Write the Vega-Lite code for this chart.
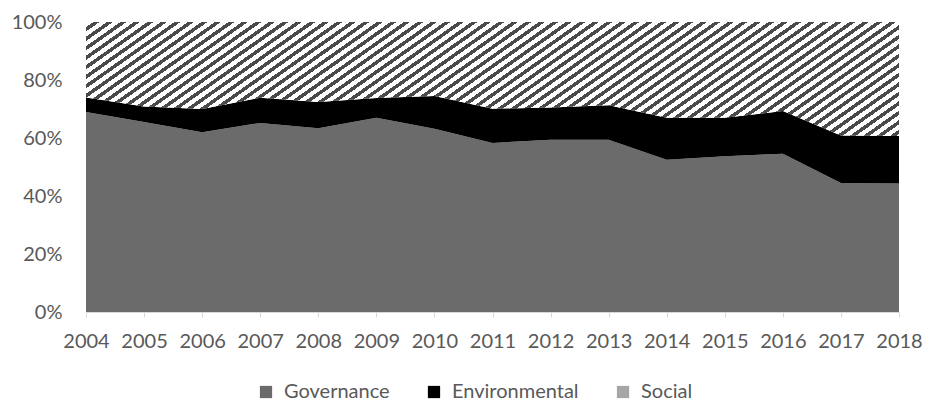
{
  "$schema": "https://vega.github.io/schema/vega-lite/v6.json",
  "width": 813,
  "height": 290,
  "autosize": {"type": "none"},
  "padding": {"left": 86, "top": 22, "right": 28, "bottom": 93},
  "background": "#ffffff",
  "config": {"view": {"stroke": null}, "font": "Lato"},
  "data": {
    "values": [
      {"year": 2004, "category": "Governance", "share": 69.0},
      {"year": 2004, "category": "Environmental", "share": 5.0},
      {"year": 2004, "category": "Social", "share": 26.0},
      {"year": 2005, "category": "Governance", "share": 65.5},
      {"year": 2005, "category": "Environmental", "share": 5.4},
      {"year": 2005, "category": "Social", "share": 29.1},
      {"year": 2006, "category": "Governance", "share": 62.0},
      {"year": 2006, "category": "Environmental", "share": 8.0},
      {"year": 2006, "category": "Social", "share": 30.0},
      {"year": 2007, "category": "Governance", "share": 65.2},
      {"year": 2007, "category": "Environmental", "share": 8.7},
      {"year": 2007, "category": "Social", "share": 26.1},
      {"year": 2008, "category": "Governance", "share": 63.4},
      {"year": 2008, "category": "Environmental", "share": 9.0},
      {"year": 2008, "category": "Social", "share": 27.6},
      {"year": 2009, "category": "Governance", "share": 67.0},
      {"year": 2009, "category": "Environmental", "share": 6.8},
      {"year": 2009, "category": "Social", "share": 26.2},
      {"year": 2010, "category": "Governance", "share": 63.2},
      {"year": 2010, "category": "Environmental", "share": 11.3},
      {"year": 2010, "category": "Social", "share": 25.5},
      {"year": 2011, "category": "Governance", "share": 58.3},
      {"year": 2011, "category": "Environmental", "share": 11.8},
      {"year": 2011, "category": "Social", "share": 29.9},
      {"year": 2012, "category": "Governance", "share": 59.4},
      {"year": 2012, "category": "Environmental", "share": 11.1},
      {"year": 2012, "category": "Social", "share": 29.5},
      {"year": 2013, "category": "Governance", "share": 59.4},
      {"year": 2013, "category": "Environmental", "share": 11.9},
      {"year": 2013, "category": "Social", "share": 28.7},
      {"year": 2014, "category": "Governance", "share": 52.5},
      {"year": 2014, "category": "Environmental", "share": 14.5},
      {"year": 2014, "category": "Social", "share": 33.0},
      {"year": 2015, "category": "Governance", "share": 53.7},
      {"year": 2015, "category": "Environmental", "share": 13.3},
      {"year": 2015, "category": "Social", "share": 33.0},
      {"year": 2016, "category": "Governance", "share": 54.6},
      {"year": 2016, "category": "Environmental", "share": 14.7},
      {"year": 2016, "category": "Social", "share": 30.7},
      {"year": 2017, "category": "Governance", "share": 44.5},
      {"year": 2017, "category": "Environmental", "share": 16.4},
      {"year": 2017, "category": "Social", "share": 39.1},
      {"year": 2018, "category": "Governance", "share": 44.3},
      {"year": 2018, "category": "Environmental", "share": 16.4},
      {"year": 2018, "category": "Social", "share": 39.3}
    ]
  },
  "transform": [
    {"calculate": "indexof(['Governance','Environmental','Social'], datum.category)", "as": "ord"},
    {"stack": "share", "groupby": ["year"], "sort": [{"field": "ord", "order": "ascending"}], "offset": "normalize", "as": ["y0", "y1"]}
  ],
  "encoding": {
    "x": {
      "field": "year",
      "type": "quantitative",
      "scale": {"domain": [2004, 2018], "nice": false, "zero": false},
      "axis": {
        "title": null,
        "values": [2004, 2005, 2006, 2007, 2008, 2009, 2010, 2011, 2012, 2013, 2014, 2015, 2016, 2017, 2018],
        "format": "d",
        "grid": false,
        "domainColor": "#d9d9d9",
        "tickColor": "#d9d9d9",
        "tickSize": 5,
        "labelPadding": 14,
        "labelFont": "Lato",
        "labelFontSize": 20,
        "labelColor": "#595959",
        "labelFlush": false,
        "labelOverlap": false,
        "labelBound": false,
        "zindex": 1
      }
    },
    "y": {
      "field": "y1",
      "type": "quantitative",
      "stack": null,
      "scale": {"domain": [0, 1], "nice": false},
      "axis": {
        "title": null,
        "format": "~%",
        "values": [0, 0.2, 0.4, 0.6, 0.8, 1],
        "grid": false,
        "domain": false,
        "ticks": false,
        "tickSize": 0,
        "labelPadding": 24,
        "labelFont": "Lato",
        "labelFontSize": 20,
        "labelColor": "#595959"
      }
    },
    "y2": {"field": "y0"}
  },
  "layer": [
    {
      "transform": [{"filter": "datum.category !== 'Social'"}],
      "mark": {"type": "area", "interpolate": "linear"},
      "encoding": {
        "color": {
          "field": "category",
          "type": "nominal",
          "scale": {"domain": ["Governance", "Environmental", "Social"], "range": ["#6b6b6b", "#000000", "#a6a6a6"]},
          "legend": {
            "title": null,
            "orient": "none",
            "legendX": 170,
            "legendY": 360,
            "direction": "horizontal",
            "symbolType": "square",
            "symbolSize": 150,
            "symbolStrokeWidth": 0,
            "labelFont": "Lato",
            "labelFontSize": 20,
            "labelColor": "#595959",
            "labelOffset": 8,
            "columnPadding": 34
          }
        }
      }
    },
    {
      "transform": [{"filter": "datum.category === 'Social'"}],
      "mark": {
        "type": "area",
        "interpolate": "linear",
        "fill": {
          "gradient": "linear",
          "x1": 0, "y1": 0, "x2": 1.597, "y2": 0.318,
          "stops": [
            {"offset": 0, "color": "#fff"}, {"offset": 0.0055, "color": "#fff"}, {"offset": 0.0055, "color": "#4a4a4a"}, {"offset": 0.01, "color": "#4a4a4a"},
            {"offset": 0.01, "color": "#fff"}, {"offset": 0.0155, "color": "#fff"}, {"offset": 0.0155, "color": "#4a4a4a"}, {"offset": 0.02, "color": "#4a4a4a"},
            {"offset": 0.02, "color": "#fff"}, {"offset": 0.0255, "color": "#fff"}, {"offset": 0.0255, "color": "#4a4a4a"}, {"offset": 0.03, "color": "#4a4a4a"},
            {"offset": 0.03, "color": "#fff"}, {"offset": 0.0355, "color": "#fff"}, {"offset": 0.0355, "color": "#4a4a4a"}, {"offset": 0.04, "color": "#4a4a4a"},
            {"offset": 0.04, "color": "#fff"}, {"offset": 0.0455, "color": "#fff"}, {"offset": 0.0455, "color": "#4a4a4a"}, {"offset": 0.05, "color": "#4a4a4a"},
            {"offset": 0.05, "color": "#fff"}, {"offset": 0.0555, "color": "#fff"}, {"offset": 0.0555, "color": "#4a4a4a"}, {"offset": 0.06, "color": "#4a4a4a"},
            {"offset": 0.06, "color": "#fff"}, {"offset": 0.0655, "color": "#fff"}, {"offset": 0.0655, "color": "#4a4a4a"}, {"offset": 0.07, "color": "#4a4a4a"},
            {"offset": 0.07, "color": "#fff"}, {"offset": 0.0755, "color": "#fff"}, {"offset": 0.0755, "color": "#4a4a4a"}, {"offset": 0.08, "color": "#4a4a4a"},
            {"offset": 0.08, "color": "#fff"}, {"offset": 0.0855, "color": "#fff"}, {"offset": 0.0855, "color": "#4a4a4a"}, {"offset": 0.09, "color": "#4a4a4a"},
            {"offset": 0.09, "color": "#fff"}, {"offset": 0.0955, "color": "#fff"}, {"offset": 0.0955, "color": "#4a4a4a"}, {"offset": 0.1, "color": "#4a4a4a"},
            {"offset": 0.1, "color": "#fff"}, {"offset": 0.1055, "color": "#fff"}, {"offset": 0.1055, "color": "#4a4a4a"}, {"offset": 0.11, "color": "#4a4a4a"},
            {"offset": 0.11, "color": "#fff"}, {"offset": 0.1155, "color": "#fff"}, {"offset": 0.1155, "color": "#4a4a4a"}, {"offset": 0.12, "color": "#4a4a4a"},
            {"offset": 0.12, "color": "#fff"}, {"offset": 0.1255, "color": "#fff"}, {"offset": 0.1255, "color": "#4a4a4a"}, {"offset": 0.13, "color": "#4a4a4a"},
            {"offset": 0.13, "color": "#fff"}, {"offset": 0.1355, "color": "#fff"}, {"offset": 0.1355, "color": "#4a4a4a"}, {"offset": 0.14, "color": "#4a4a4a"},
            {"offset": 0.14, "color": "#fff"}, {"offset": 0.1455, "color": "#fff"}, {"offset": 0.1455, "color": "#4a4a4a"}, {"offset": 0.15, "color": "#4a4a4a"},
            {"offset": 0.15, "color": "#fff"}, {"offset": 0.1555, "color": "#fff"}, {"offset": 0.1555, "color": "#4a4a4a"}, {"offset": 0.16, "color": "#4a4a4a"},
            {"offset": 0.16, "color": "#fff"}, {"offset": 0.1655, "color": "#fff"}, {"offset": 0.1655, "color": "#4a4a4a"}, {"offset": 0.17, "color": "#4a4a4a"},
            {"offset": 0.17, "color": "#fff"}, {"offset": 0.1755, "color": "#fff"}, {"offset": 0.1755, "color": "#4a4a4a"}, {"offset": 0.18, "color": "#4a4a4a"},
            {"offset": 0.18, "color": "#fff"}, {"offset": 0.1855, "color": "#fff"}, {"offset": 0.1855, "color": "#4a4a4a"}, {"offset": 0.19, "color": "#4a4a4a"},
            {"offset": 0.19, "color": "#fff"}, {"offset": 0.1955, "color": "#fff"}, {"offset": 0.1955, "color": "#4a4a4a"}, {"offset": 0.2, "color": "#4a4a4a"},
            {"offset": 0.2, "color": "#fff"}, {"offset": 0.2055, "color": "#fff"}, {"offset": 0.2055, "color": "#4a4a4a"}, {"offset": 0.21, "color": "#4a4a4a"},
            {"offset": 0.21, "color": "#fff"}, {"offset": 0.2155, "color": "#fff"}, {"offset": 0.2155, "color": "#4a4a4a"}, {"offset": 0.22, "color": "#4a4a4a"},
            {"offset": 0.22, "color": "#fff"}, {"offset": 0.2255, "color": "#fff"}, {"offset": 0.2255, "color": "#4a4a4a"}, {"offset": 0.23, "color": "#4a4a4a"},
            {"offset": 0.23, "color": "#fff"}, {"offset": 0.2355, "color": "#fff"}, {"offset": 0.2355, "color": "#4a4a4a"}, {"offset": 0.24, "color": "#4a4a4a"},
            {"offset": 0.24, "color": "#fff"}, {"offset": 0.2455, "color": "#fff"}, {"offset": 0.2455, "color": "#4a4a4a"}, {"offset": 0.25, "color": "#4a4a4a"},
            {"offset": 0.25, "color": "#fff"}, {"offset": 0.2555, "color": "#fff"}, {"offset": 0.2555, "color": "#4a4a4a"}, {"offset": 0.26, "color": "#4a4a4a"},
            {"offset": 0.26, "color": "#fff"}, {"offset": 0.2655, "color": "#fff"}, {"offset": 0.2655, "color": "#4a4a4a"}, {"offset": 0.27, "color": "#4a4a4a"},
            {"offset": 0.27, "color": "#fff"}, {"offset": 0.2755, "color": "#fff"}, {"offset": 0.2755, "color": "#4a4a4a"}, {"offset": 0.28, "color": "#4a4a4a"},
            {"offset": 0.28, "color": "#fff"}, {"offset": 0.2855, "color": "#fff"}, {"offset": 0.2855, "color": "#4a4a4a"}, {"offset": 0.29, "color": "#4a4a4a"},
            {"offset": 0.29, "color": "#fff"}, {"offset": 0.2955, "color": "#fff"}, {"offset": 0.2955, "color": "#4a4a4a"}, {"offset": 0.3, "color": "#4a4a4a"},
            {"offset": 0.3, "color": "#fff"}, {"offset": 0.3055, "color": "#fff"}, {"offset": 0.3055, "color": "#4a4a4a"}, {"offset": 0.31, "color": "#4a4a4a"},
            {"offset": 0.31, "color": "#fff"}, {"offset": 0.3155, "color": "#fff"}, {"offset": 0.3155, "color": "#4a4a4a"}, {"offset": 0.32, "color": "#4a4a4a"},
            {"offset": 0.32, "color": "#fff"}, {"offset": 0.3255, "color": "#fff"}, {"offset": 0.3255, "color": "#4a4a4a"}, {"offset": 0.33, "color": "#4a4a4a"},
            {"offset": 0.33, "color": "#fff"}, {"offset": 0.3355, "color": "#fff"}, {"offset": 0.3355, "color": "#4a4a4a"}, {"offset": 0.34, "color": "#4a4a4a"},
            {"offset": 0.34, "color": "#fff"}, {"offset": 0.3455, "color": "#fff"}, {"offset": 0.3455, "color": "#4a4a4a"}, {"offset": 0.35, "color": "#4a4a4a"},
            {"offset": 0.35, "color": "#fff"}, {"offset": 0.3555, "color": "#fff"}, {"offset": 0.3555, "color": "#4a4a4a"}, {"offset": 0.36, "color": "#4a4a4a"},
            {"offset": 0.36, "color": "#fff"}, {"offset": 0.3655, "color": "#fff"}, {"offset": 0.3655, "color": "#4a4a4a"}, {"offset": 0.37, "color": "#4a4a4a"},
            {"offset": 0.37, "color": "#fff"}, {"offset": 0.3755, "color": "#fff"}, {"offset": 0.3755, "color": "#4a4a4a"}, {"offset": 0.38, "color": "#4a4a4a"},
            {"offset": 0.38, "color": "#fff"}, {"offset": 0.3855, "color": "#fff"}, {"offset": 0.3855, "color": "#4a4a4a"}, {"offset": 0.39, "color": "#4a4a4a"},
            {"offset": 0.39, "color": "#fff"}, {"offset": 0.3955, "color": "#fff"}, {"offset": 0.3955, "color": "#4a4a4a"}, {"offset": 0.4, "color": "#4a4a4a"},
            {"offset": 0.4, "color": "#fff"}, {"offset": 0.4055, "color": "#fff"}, {"offset": 0.4055, "color": "#4a4a4a"}, {"offset": 0.41, "color": "#4a4a4a"},
            {"offset": 0.41, "color": "#fff"}, {"offset": 0.4155, "color": "#fff"}, {"offset": 0.4155, "color": "#4a4a4a"}, {"offset": 0.42, "color": "#4a4a4a"},
            {"offset": 0.42, "color": "#fff"}, {"offset": 0.4255, "color": "#fff"}, {"offset": 0.4255, "color": "#4a4a4a"}, {"offset": 0.43, "color": "#4a4a4a"},
            {"offset": 0.43, "color": "#fff"}, {"offset": 0.4355, "color": "#fff"}, {"offset": 0.4355, "color": "#4a4a4a"}, {"offset": 0.44, "color": "#4a4a4a"},
            {"offset": 0.44, "color": "#fff"}, {"offset": 0.4455, "color": "#fff"}, {"offset": 0.4455, "color": "#4a4a4a"}, {"offset": 0.45, "color": "#4a4a4a"},
            {"offset": 0.45, "color": "#fff"}, {"offset": 0.4555, "color": "#fff"}, {"offset": 0.4555, "color": "#4a4a4a"}, {"offset": 0.46, "color": "#4a4a4a"},
            {"offset": 0.46, "color": "#fff"}, {"offset": 0.4655, "color": "#fff"}, {"offset": 0.4655, "color": "#4a4a4a"}, {"offset": 0.47, "color": "#4a4a4a"},
            {"offset": 0.47, "color": "#fff"}, {"offset": 0.4755, "color": "#fff"}, {"offset": 0.4755, "color": "#4a4a4a"}, {"offset": 0.48, "color": "#4a4a4a"},
            {"offset": 0.48, "color": "#fff"}, {"offset": 0.4855, "color": "#fff"}, {"offset": 0.4855, "color": "#4a4a4a"}, {"offset": 0.49, "color": "#4a4a4a"},
            {"offset": 0.49, "color": "#fff"}, {"offset": 0.4955, "color": "#fff"}, {"offset": 0.4955, "color": "#4a4a4a"}, {"offset": 0.5, "color": "#4a4a4a"},
            {"offset": 0.5, "color": "#fff"}, {"offset": 0.5055, "color": "#fff"}, {"offset": 0.5055, "color": "#4a4a4a"}, {"offset": 0.51, "color": "#4a4a4a"},
            {"offset": 0.51, "color": "#fff"}, {"offset": 0.5155, "color": "#fff"}, {"offset": 0.5155, "color": "#4a4a4a"}, {"offset": 0.52, "color": "#4a4a4a"},
            {"offset": 0.52, "color": "#fff"}, {"offset": 0.5255, "color": "#fff"}, {"offset": 0.5255, "color": "#4a4a4a"}, {"offset": 0.53, "color": "#4a4a4a"},
            {"offset": 0.53, "color": "#fff"}, {"offset": 0.5355, "color": "#fff"}, {"offset": 0.5355, "color": "#4a4a4a"}, {"offset": 0.54, "color": "#4a4a4a"},
            {"offset": 0.54, "color": "#fff"}, {"offset": 0.5455, "color": "#fff"}, {"offset": 0.5455, "color": "#4a4a4a"}, {"offset": 0.55, "color": "#4a4a4a"},
            {"offset": 0.55, "color": "#fff"}, {"offset": 0.5555, "color": "#fff"}, {"offset": 0.5555, "color": "#4a4a4a"}, {"offset": 0.56, "color": "#4a4a4a"},
            {"offset": 0.56, "color": "#fff"}, {"offset": 0.5655, "color": "#fff"}, {"offset": 0.5655, "color": "#4a4a4a"}, {"offset": 0.57, "color": "#4a4a4a"},
            {"offset": 0.57, "color": "#fff"}, {"offset": 0.5755, "color": "#fff"}, {"offset": 0.5755, "color": "#4a4a4a"}, {"offset": 0.58, "color": "#4a4a4a"},
            {"offset": 0.58, "color": "#fff"}, {"offset": 0.5855, "color": "#fff"}, {"offset": 0.5855, "color": "#4a4a4a"}, {"offset": 0.59, "color": "#4a4a4a"},
            {"offset": 0.59, "color": "#fff"}, {"offset": 0.5955, "color": "#fff"}, {"offset": 0.5955, "color": "#4a4a4a"}, {"offset": 0.6, "color": "#4a4a4a"},
            {"offset": 0.6, "color": "#fff"}, {"offset": 0.6055, "color": "#fff"}, {"offset": 0.6055, "color": "#4a4a4a"}, {"offset": 0.61, "color": "#4a4a4a"},
            {"offset": 0.61, "color": "#fff"}, {"offset": 0.6155, "color": "#fff"}, {"offset": 0.6155, "color": "#4a4a4a"}, {"offset": 0.62, "color": "#4a4a4a"},
            {"offset": 0.62, "color": "#fff"}, {"offset": 0.6255, "color": "#fff"}, {"offset": 0.6255, "color": "#4a4a4a"}, {"offset": 0.63, "color": "#4a4a4a"},
            {"offset": 0.63, "color": "#fff"}, {"offset": 0.6355, "color": "#fff"}, {"offset": 0.6355, "color": "#4a4a4a"}, {"offset": 0.64, "color": "#4a4a4a"},
            {"offset": 0.64, "color": "#fff"}, {"offset": 0.6455, "color": "#fff"}, {"offset": 0.6455, "color": "#4a4a4a"}, {"offset": 0.65, "color": "#4a4a4a"},
            {"offset": 0.65, "color": "#fff"}, {"offset": 0.6555, "color": "#fff"}, {"offset": 0.6555, "color": "#4a4a4a"}, {"offset": 0.66, "color": "#4a4a4a"},
            {"offset": 0.66, "color": "#fff"}, {"offset": 0.6655, "color": "#fff"}, {"offset": 0.6655, "color": "#4a4a4a"}, {"offset": 0.67, "color": "#4a4a4a"},
            {"offset": 0.67, "color": "#fff"}, {"offset": 0.6755, "color": "#fff"}, {"offset": 0.6755, "color": "#4a4a4a"}, {"offset": 0.68, "color": "#4a4a4a"},
            {"offset": 0.68, "color": "#fff"}, {"offset": 0.6855, "color": "#fff"}, {"offset": 0.6855, "color": "#4a4a4a"}, {"offset": 0.69, "color": "#4a4a4a"},
            {"offset": 0.69, "color": "#fff"}, {"offset": 0.6955, "color": "#fff"}, {"offset": 0.6955, "color": "#4a4a4a"}, {"offset": 0.7, "color": "#4a4a4a"},
            {"offset": 0.7, "color": "#fff"}, {"offset": 0.7055, "color": "#fff"}, {"offset": 0.7055, "color": "#4a4a4a"}, {"offset": 0.71, "color": "#4a4a4a"},
            {"offset": 0.71, "color": "#fff"}, {"offset": 0.7155, "color": "#fff"}, {"offset": 0.7155, "color": "#4a4a4a"}, {"offset": 0.72, "color": "#4a4a4a"},
            {"offset": 0.72, "color": "#fff"}, {"offset": 0.7255, "color": "#fff"}, {"offset": 0.7255, "color": "#4a4a4a"}, {"offset": 0.73, "color": "#4a4a4a"},
            {"offset": 0.73, "color": "#fff"}, {"offset": 0.7355, "color": "#fff"}, {"offset": 0.7355, "color": "#4a4a4a"}, {"offset": 0.74, "color": "#4a4a4a"},
            {"offset": 0.74, "color": "#fff"}, {"offset": 1, "color": "#fff"}
          ]
        }
      }
    }
  ]
}
